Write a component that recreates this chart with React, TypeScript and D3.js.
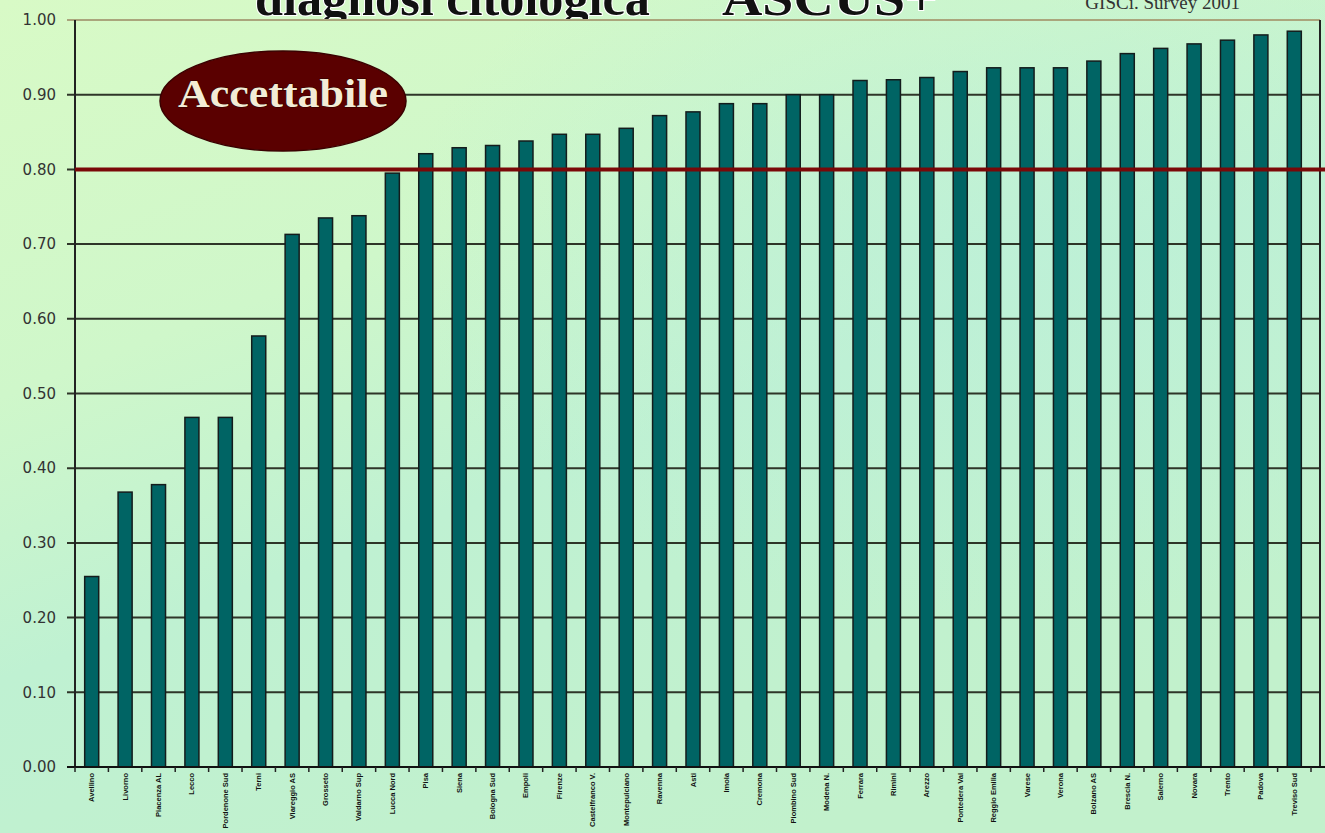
import * as d3 from 'd3';

const W = 1325;
const H = 833;

// Program names along the x axis (too small to read in the source, approximated)
const categories = [
  'Avellino', 'Livorno', 'Piacenza AL', 'Lecco', 'Pordenone Sud', 'Terni',
  'Viareggio AS', 'Grosseto', 'Valdarno Sup', 'Lucca Nord', 'Pisa', 'Siena',
  'Bologna Sud', 'Empoli', 'Firenze', 'Castelfranco V.', 'Montepulciano',
  'Ravenna', 'Asti', 'Imola', 'Cremona', 'Piombino Sud', 'Modena N.',
  'Ferrara', 'Rimini', 'Arezzo', 'Pontedera Val', 'Reggio Emilia', 'Varese',
  'Verona', 'Bolzano AS', 'Brescia N.', 'Salerno', 'Novara', 'Trento',
  'Padova', 'Treviso Sud',
];

const values = [
  0.255, 0.368, 0.378, 0.468, 0.468, 0.577, 0.713, 0.735, 0.738, 0.795,
  0.821, 0.829, 0.832, 0.838, 0.847, 0.847, 0.855, 0.872, 0.877, 0.888,
  0.888, 0.9, 0.9, 0.919, 0.92, 0.923, 0.931, 0.936, 0.936, 0.936,
  0.945, 0.955, 0.962, 0.968, 0.973, 0.98, 0.985,
];

const yTicks = [0, 0.1, 0.2, 0.3, 0.4, 0.5, 0.6, 0.7, 0.8, 0.9, 1.0];
const threshold = 0.8;

const margin = { top: 20, right: 14, bottom: 66, left: 75 };
const frameRight = 1320;

export default function App() {
  const x = d3
    .scaleBand<string>()
    .domain(categories)
    .range([margin.left, W - margin.right])
    .paddingInner(0.58)
    .paddingOuter(0.29);

  const y = d3
    .scaleLinear()
    .domain([0, 1])
    .range([H - margin.bottom, margin.top]);

  const step = x.step();
  const x0 = margin.left;
  const boundaries = d3.range(categories.length + 1).map((i) => x0 + step * i);

  const serif = "'Liberation Serif', 'Times New Roman', serif";

  return (
    <svg
      width={W}
      height={H}
      style={{ position: 'absolute', left: 0, top: 0, display: 'block' }}
    >
      <defs>
        <linearGradient id="bg" x1="0" y1="0" x2="0.6" y2="1">
          <stop offset="0" stopColor="#d8fac6" />
          <stop offset="0.35" stopColor="#cff7ca" />
          <stop offset="0.6" stopColor="#bff1d2" />
          <stop offset="1" stopColor="#c2f1cc" />
        </linearGradient>
        <radialGradient id="glow" cx="0.75" cy="0.3" r="0.45">
          <stop offset="0" stopColor="#bdf0d8" stopOpacity="0.8" />
          <stop offset="1" stopColor="#bdf0d8" stopOpacity="0" />
        </radialGradient>
        <clipPath id="titleClip">
          <rect x={0} y={0} width={W} height={margin.top - 1} />
        </clipPath>
      </defs>

      <rect width={W} height={H} fill="url(#bg)" />
      <rect width={W} height={H} fill="url(#glow)" />

      {/* title, cut at the top of the frame as in the slide */}
      <g clipPath="url(#titleClip)">
        <text
          x={255}
          y={15}
          fontFamily={serif}
          fontWeight="bold"
          fontSize={50}
          textLength={395}
          lengthAdjust="spacingAndGlyphs"
          fill="#111"
          stroke="#ffffff"
          strokeWidth={2}
          paintOrder="stroke"
        >
          diagnosi citologica
        </text>
        <text
          x={722}
          y={15}
          fontFamily={serif}
          fontWeight="bold"
          fontSize={50}
          textLength={215}
          lengthAdjust="spacingAndGlyphs"
          fill="#111"
          stroke="#ffffff"
          strokeWidth={2}
          paintOrder="stroke"
        >
          ASCUS+
        </text>
        <text
          x={1240}
          y={9}
          textAnchor="end"
          fontFamily={serif}
          fontSize={19}
          fill="#333"
        >
          GISCi. Survey 2001
        </text>
      </g>

      {/* gridlines */}
      {yTicks.map((t) => (
        <line
          key={t}
          x1={x0 - 8}
          x2={frameRight}
          y1={y(t)}
          y2={y(t)}
          stroke={t === 1 ? '#aaa57c' : '#2e3528'}
          strokeWidth={2}
        />
      ))}

      {/* y tick labels */}
      {yTicks.map((t) => (
        <text
          key={`l${t}`}
          x={56}
          y={y(t)}
          dy="0.35em"
          textAnchor="end"
          fontFamily="'DejaVu Sans', sans-serif"
          fontSize={15}
          fill="#333"
        >
          {t.toFixed(2)}
        </text>
      ))}

      {/* bars */}
      {values.map((v, i) => (
        <rect
          key={categories[i]}
          x={x(categories[i])}
          y={y(v)}
          width={x.bandwidth()}
          height={y(0) - y(v)}
          fill="#006464"
          stroke="#141c1c"
          strokeWidth={1.5}
        />
      ))}

      {/* frame */}
      <line x1={x0} x2={x0} y1={y(1)} y2={y(0)} stroke="#222" strokeWidth={2} />
      <line x1={frameRight} x2={frameRight} y1={y(1)} y2={y(0)} stroke="#222" strokeWidth={2} />
      <line x1={x0 - 8} x2={W} y1={y(0)} y2={y(0)} stroke="#111" strokeWidth={2} />

      {/* x ticks */}
      {boundaries.map((bx, i) => (
        <line key={`t${i}`} x1={bx} x2={bx} y1={y(0)} y2={y(0) + 5} stroke="#222" strokeWidth={1.5} />
      ))}

      {/* x labels */}
      {categories.map((c) => {
        const cx = (x(c) || 0) + x.bandwidth() / 2;
        return (
          <text
            key={`x${c}`}
            transform={`translate(${cx + 2.5},${y(0) + 6}) rotate(-90)`}
            textAnchor="end"
            fontFamily="'Liberation Sans', Arial, sans-serif"
            fontWeight="bold"
            fontSize={7.5}
            fill="#111"
          >
            {c}
          </text>
        );
      })}

      {/* acceptable threshold */}
      <line
        x1={x0}
        x2={W}
        y1={y(threshold)}
        y2={y(threshold)}
        stroke="#7a0808"
        strokeWidth={4}
      />

      <ellipse cx={283} cy={101} rx={123} ry={50} fill="#5a0000" stroke="#3a0000" strokeWidth={1.5} />
      <text
        x={283}
        y={107}
        textAnchor="middle"
        fontFamily={serif}
        fontWeight="bold"
        fontSize={40}
        textLength={210}
        lengthAdjust="spacingAndGlyphs"
        fill="#f3ecd6"
        stroke="#2a0000"
        strokeWidth={1}
        paintOrder="stroke"
      >
        Accettabile
      </text>
    </svg>
  );
}
